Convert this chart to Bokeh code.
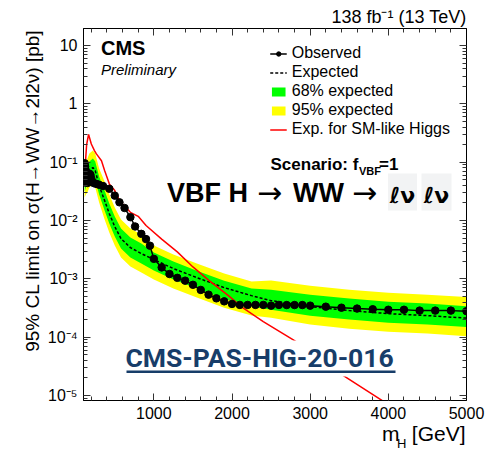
import math
from bokeh.plotting import figure
from bokeh.models import (Range1d, LinearAxis, LogAxis, FixedTicker, Label, Legend,
                          LegendItem, BoxAnnotation, ColumnDataSource, Title)
from bokeh.embed import file_html
from bokeh.resources import INLINE

# ---------------- data ----------------
# observed 95% CL upper limits [pb] vs m_H [GeV]
obs_mass = [115, 120, 125, 130, 135, 140, 150, 160, 170, 180, 190, 200, 210, 230, 260,
            300, 350, 430, 500, 560, 625, 700, 760, 840, 900, 950, 1000,
            1100, 1200, 1300, 1400, 1500, 1600, 1700, 1800, 1900, 2000,
            2100, 2200, 2300, 2400, 2500, 2600, 2700, 2800, 2900, 3000,
            3200, 3400, 3600, 3800, 4000, 4200, 4400, 4600, 4800, 5000]
obs_limit = [0.096, 0.085, 0.075, 0.063, 0.052, 0.046, 0.044, 0.050, 0.058, 0.063, 0.060,
             0.052, 0.046, 0.044, 0.0425,
             0.041, 0.039, 0.035, 0.0267, 0.0205, 0.0164, 0.0114, 0.0079, 0.0059, 0.0048,
             0.0037, 0.0022,
             0.00157, 0.00121, 0.00104, 0.00093, 0.00079, 0.000645, 0.000536, 0.000463,
             0.000411, 0.000371,
             0.000357, 0.000357, 0.000357, 0.000357, 0.000347, 0.000357, 0.000355,
             0.000355, 0.000355, 0.000347,
             0.000333, 0.000320, 0.000309, 0.000301, 0.000295, 0.000295, 0.000285,
             0.000285, 0.000285, 0.000279]

# expected limit: median and 68% / 95% bands [pb]
exp_mass = [115, 130, 150, 175, 220, 250, 300, 370, 430, 500, 580, 700, 840, 1000,
            1250, 1550, 1900, 2250, 2500, 3000, 3500, 4000, 4500, 5000]
exp_median = [0.0382, 0.0484, 0.0589, 0.0718, 0.0808, 0.0718, 0.0397, 0.02195, 0.01313,
              0.00786, 0.00489, 0.00343, 0.00271, 0.00214, 0.0015, 0.00105, 0.000706,
              0.000515, 0.000423, 0.000333, 0.000285, 0.000253, 0.000234, 0.000212]
exp_68_up = [0.0465, 0.0638, 0.0840, 0.1025, 0.1153, 0.1025, 0.0567, 0.0326, 0.01948,
             0.01166, 0.00726, 0.00509, 0.00402, 0.00282, 0.00198, 0.00138, 0.00093,
             0.00068, 0.000653, 0.000535, 0.000458, 0.000406, 0.000376, 0.00034]
exp_68_dn = [0.0314, 0.0367, 0.0413, 0.0503, 0.0566, 0.0503, 0.0278, 0.01479, 0.00885,
             0.0053, 0.0033, 0.00231, 0.00183, 0.00139, 0.00097, 0.00068, 0.000457,
             0.000334, 0.000296, 0.000233, 0.0002, 0.000177, 0.000164, 0.000149]
exp_95_up = [0.059, 0.0842, 0.1153, 0.1405, 0.1581, 0.1405, 0.0777, 0.0465, 0.0278,
             0.01665, 0.01036, 0.00726, 0.00574, 0.00372, 0.00261, 0.00183, 0.00123,
             0.000896, 0.000932, 0.000763, 0.000653, 0.00058, 0.000536, 0.000486]
exp_95_dn = [0.0247, 0.0278, 0.0301, 0.0367, 0.0413, 0.0367, 0.0203, 0.01036, 0.0062,
             0.00371, 0.00231, 0.00162, 0.00128, 0.00097, 0.00068, 0.000477, 0.00032,
             0.000234, 0.000216, 0.000164, 0.00014, 0.000124, 0.000115, 0.000104]

# expected limit for a SM-like Higgs width hypothesis [pb]
sm_mass = [115, 125, 140, 165, 200, 240, 265, 330, 370, 430, 500, 560, 700, 800, 900,
           1100, 1300, 1500, 1700, 1950, 2150, 2400, 2800, 3400, 4000]
sm_limit = [0.045, 0.10, 0.20, 0.30, 0.205, 0.158, 0.139, 0.106, 0.072, 0.0425, 0.0326,
            0.0219, 0.0138, 0.0118, 0.0082, 0.0048, 0.0029, 0.0016, 0.00095, 0.00052,
            0.00031, 0.000185, 8.7e-5, 2.3e-5, 7.0e-6]

x_major_ticks = [1000, 2000, 3000, 4000, 5000]
x_minor_ticks = list(range(200, 5001, 200))
y_major_ticks = [1e-5, 1e-4, 1e-3, 1e-2, 1e-1, 1, 10]
y_tick_labels = ["10\u207b\u2075", "10\u207b\u2074", "10\u207b\u00b3", "10\u207b\u00b2",
                 "10\u207b\u00b9", "1", "10"]
y_minor_ticks = [k * 10.0 ** e for e in range(-6, 2) for k in range(2, 10)]

# ---------------- figure ----------------
W, H = 485, 449
FL, FR, FT, FB = 83, 466, 28, 400   # frame edges (px)
FONT = "Liberation Sans"
NBSP = "\u00a0"

p = figure(width=W, height=H, y_axis_type="log",
           x_range=Range1d(100, 5000), y_range=Range1d(8.2e-6, 19.6),
           output_backend="svg", toolbar_location=None,
           min_border_left=FL, min_border_right=W - FR,
           min_border_top=FT, min_border_bottom=H - FB)
p.xgrid.visible = False
p.ygrid.visible = False
p.outline_line_color = "black"
p.outline_line_width = 1
p.background_fill_color = "white"
p.border_fill_color = "white"

xticker = FixedTicker(ticks=x_major_ticks, minor_ticks=x_minor_ticks)
yticker = FixedTicker(ticks=y_major_ticks, minor_ticks=y_minor_ticks)

def style_axis(ax, show_labels):
    ax.major_tick_in = 7
    ax.major_tick_out = 0
    ax.minor_tick_in = 4
    ax.minor_tick_out = 0
    ax.axis_line_color = "black"
    ax.major_tick_line_color = "#333333"
    ax.minor_tick_line_color = "#333333"
    if show_labels:
        ax.major_label_text_font = FONT
        ax.major_label_text_font_size = "16px"
        ax.major_label_text_color = "black"
    else:
        ax.major_label_text_font_size = "1px"
        ax.major_label_text_alpha = 0
        ax.major_label_standoff = 0

xaxis, yaxis = p.xaxis[0], p.yaxis[0]
xaxis.ticker = xticker
yaxis.ticker = yticker
yaxis.major_label_overrides = dict(zip(y_major_ticks, y_tick_labels))
xaxis.major_label_standoff = 6
yaxis.major_label_standoff = 6
style_axis(xaxis, True)
style_axis(yaxis, True)

# axis titles (leading no-break spaces shift them toward the frame's far end)
yaxis.axis_label = NBSP * 9 + "95% CL limit on \u03c3(H\u2192WW\u21922l2\u03bd) [pb]"
yaxis.axis_label_text_font = FONT
yaxis.axis_label_text_font_size = "19px"
yaxis.axis_label_text_font_style = "normal"
yaxis.axis_label_text_color = "black"
yaxis.axis_label_standoff = 2
xaxis.axis_label = NBSP * 51 + "m\u2002\u200a[GeV]"
xaxis.axis_label_text_font = FONT
xaxis.axis_label_text_font_size = "21px"
xaxis.axis_label_text_font_style = "normal"
xaxis.axis_label_text_color = "black"
xaxis.axis_label_standoff = 0

top_axis = LinearAxis(ticker=xticker)
right_axis = LogAxis(ticker=yticker)
style_axis(top_axis, False)
style_axis(right_axis, False)
p.add_layout(top_axis, "above")
p.add_layout(right_axis, "right")

p.add_layout(Title(text="138 fb\u207b\u00b9 (13 TeV)", align="right", text_font=FONT,
                   text_font_size="18px", text_font_style="normal", text_color="black",
                   standoff=3), "above")

# ---------------- glyphs ----------------
band = ColumnDataSource(dict(m=exp_mass, med=exp_median, g_up=exp_68_up, g_dn=exp_68_dn,
                             y_up=exp_95_up, y_dn=exp_95_dn))
b95 = p.varea(x="m", y1="y_dn", y2="y_up", source=band, fill_color="#ffff00")
b68 = p.varea(x="m", y1="g_dn", y2="g_up", source=band, fill_color="#00ff00")
exp_line = p.line(x="m", y="med", source=band, line_color="black", line_width=1.5,
                  line_dash="3 2")
sm_line = p.line(x=sm_mass, y=sm_limit, line_color="#ff0000", line_width=1.5)
obs_src = ColumnDataSource(dict(m=obs_mass, lim=obs_limit))
obs_line = p.line(x="m", y="lim", source=obs_src, line_color="black", line_width=1.5)
obs_pts = p.scatter(x="m", y="lim", source=obs_src, size=7.5, color="black")

legend = Legend(items=[
    LegendItem(label="Observed", renderers=[obs_line, obs_pts]),
    LegendItem(label="Expected", renderers=[exp_line]),
    LegendItem(label="68% expected", renderers=[b68]),
    LegendItem(label="95% expected", renderers=[b95]),
    LegendItem(label="Exp. for SM-like Higgs", renderers=[sm_line]),
], location="top_right", border_line_color=None, background_fill_alpha=0,
    padding=0, margin=16, spacing=1, glyph_width=17, glyph_height=11,
    label_standoff=5, label_height=18, label_text_font=FONT,
    label_text_font_size="16px", label_text_color="black")
p.add_layout(legend)

# ---------------- texts ----------------
def text(t, x, y, size, style="normal", font=FONT, color="black", align="left",
         angle=0.0, ox=FL, oy=FB, place=None, **kw):
    # x, y: left/baseline position in canvas pixels; (ox, oy): panel's left/bottom
    lab = Label(x=x - ox, y=oy - (y - 0.36 * size), x_units="screen", y_units="screen",
                text=t, text_font=font, text_font_size=f"{size}px",
                text_font_style=style, text_color=color, text_align=align,
                text_baseline="alphabetic", angle=angle, **kw)
    if place is None:
        p.add_layout(lab)
    else:
        p.add_layout(lab, place)
    return lab

def box(x0, x1, y0, y1, color):
    p.add_layout(BoxAnnotation(left=x0 - FL, right=x1 - FL, top=FB - y0, bottom=FB - y1,
                               left_units="screen", right_units="screen",
                               top_units="screen", bottom_units="screen",
                               fill_color=color, fill_alpha=1, line_color=None))

text("CMS", 100.5, 55, 20, "bold")
text("Preliminary", 100.5, 74.5, 15, "italic")

text("Scenario: f", 270, 170, 17, "bold")
text("VBF", 358.5, 174.5, 11, "bold")
text("=1", 378.5, 170, 17, "bold")

text("VBF H", 166.5, 202.5, 27, "bold")
text("\u2192", 256.5, 202.5, 30, font="DejaVu Sans")
text("WW", 292.5, 202.5, 27, "bold")
text("\u2192", 351.5, 202.5, 30, font="DejaVu Sans")
box(387.5, 416.5, 173, 210, "#f2f3f4")
box(421, 451, 173, 210, "#f2f3f4")
text("\u2113\u03bd", 402, 203, 22, "bold", font="DejaVu Sans", align="center")
text("\u2113\u03bd", 436, 203, 22, "bold", font="DejaVu Sans", align="center")

box(120, 400, 340, 376, "white")
text("CMS-PAS-HIG-20-016", 125, 366.5, 26.5, "bold", font="Roboto", color="#173d69")
box(126, 395, 370, 372.5, "#173d69")

# subscript of the x-axis title, held in the narrow right-hand panel
text("H", 397.5, 447.5, 13, ox=FR + 1, oy=FB, place="right")

open("out.html", "w").write(file_html(p, INLINE))
